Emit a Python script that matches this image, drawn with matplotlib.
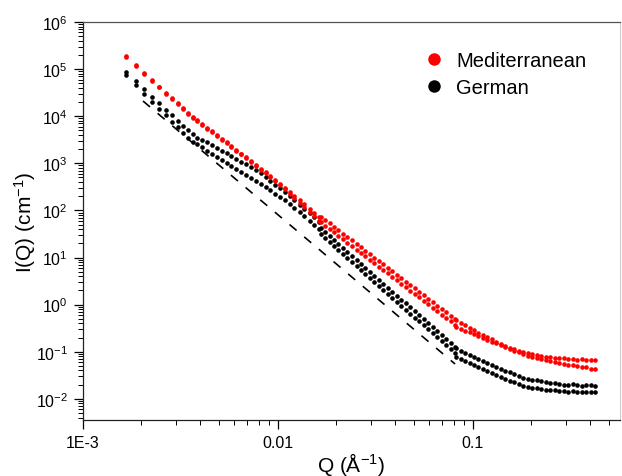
import numpy as np
import matplotlib
matplotlib.use("Agg")
import matplotlib.pyplot as plt
from matplotlib.ticker import LogLocator, NullFormatter
from matplotlib.lines import Line2D

# low-Q detector setting (shared Q grid)
q_low = [0.00167, 0.00187, 0.00207, 0.00227, 0.00247, 0.00267, 0.00287, 0.00307,
         0.00327, 0.00347, 0.00367, 0.00387, 0.00410, 0.00435, 0.00460, 0.00488,
         0.00516, 0.00547, 0.00579, 0.00614, 0.00650, 0.00689, 0.00729, 0.00773,
         0.00818, 0.00867, 0.00918, 0.00973, 0.0103, 0.0109, 0.0116, 0.0122,
         0.0130, 0.0137, 0.0146, 0.0154, 0.0163]
med_a_low = [1.87e5, 1.22e5, 8.32e4, 5.87e4, 4.26e4, 3.17e4, 2.42e4, 1.88e4, 1.47e4,
             1.19e4, 9.68e3, 8.20e3, 6.84e3, 5.71e3, 4.76e3, 3.98e3, 3.32e3, 2.77e3,
             2.31e3, 1.93e3, 1.61e3, 1.34e3, 1.12e3, 931, 771, 638, 528, 438, 361,
             299, 248, 202, 164, 134, 109, 88.9, 72.4]
med_b_low = [1.79e5, 1.17e5, 7.95e4, 5.61e4, 4.07e4, 3.03e4, 2.31e4, 1.80e4, 1.40e4,
             1.14e4, 9.24e3, 7.83e3, 6.53e3, 5.45e3, 4.55e3, 3.80e3, 3.17e3, 2.65e3,
             2.21e3, 1.84e3, 1.54e3, 1.28e3, 1.07e3, 889, 736, 609, 504, 418, 342,
             278, 227, 182, 145, 116, 93.0, 74.6, 59.7]
ger_a_low = [8.61e4, 5.55e4, 3.73e4, 2.61e4, 1.87e4, 1.38e4, 1.04e4, 8.04e3, 6.25e3,
             5.00e3, 4.11e3, 3.48e3, 3.16e3, 2.77e3, 2.43e3, 2.13e3, 1.86e3, 1.63e3,
             1.43e3, 1.25e3, 1.09e3, 955, 836, 731, 614, 509, 423, 351, 292, 242,
             201, 163, 133, 108, 87.5, 71.0, 57.5]
ger_b_low = [7.33e4, 4.58e4, 3.01e4, 2.05e4, 1.44e4, 1.04e4, 7.71e3, 5.85e3, 4.47e3,
             3.52e3, 2.90e3, 2.52e3, 2.17e3, 1.86e3, 1.60e3, 1.37e3, 1.17e3, 1.02e3,
             883, 764, 662, 574, 498, 431, 368, 313, 266, 226, 192, 164, 139, 113,
             91.8, 74.5, 60.5, 49.1, 39.9]

# mid-Q detector setting
q_mid = [0.0166, 0.0175, 0.0185, 0.0195, 0.0205, 0.0216, 0.0228, 0.0240, 0.0254,
         0.0267, 0.0282, 0.0297, 0.0313, 0.0330, 0.0348, 0.0367, 0.0387, 0.0408,
         0.0431, 0.0454, 0.0479, 0.0505, 0.0532, 0.0561, 0.0592, 0.0624, 0.0658,
         0.0693, 0.0731, 0.0771, 0.0813]
med_a_mid = [74.1, 62.7, 53.1, 44.9, 37.9, 32.1, 27.2, 23.0, 19.4, 16.4, 13.9, 11.7,
             9.95, 8.41, 7.11, 6.03, 5.09, 4.31, 3.64, 3.08, 2.61, 2.20, 1.87, 1.58,
             1.33, 1.13, 0.955, 0.807, 0.682, 0.578, 0.489]
med_b_mid = [56.2, 47.6, 40.3, 34.1, 28.8, 24.4, 20.6, 17.5, 14.7, 12.4, 10.6, 8.88,
             7.55, 6.38, 5.40, 4.58, 3.86, 3.27, 2.76, 2.34, 1.98, 1.67, 1.42, 1.20,
             1.01, 0.858, 0.725, 0.613, 0.518, 0.439, 0.371]
ger_a_mid = [41.7, 34.4, 28.3, 23.3, 19.2, 15.8, 13.1, 10.8, 8.87, 7.31, 6.03, 4.97,
             4.09, 3.37, 2.78, 2.29, 1.89, 1.56, 1.28, 1.06, 0.871, 0.718, 0.592,
             0.488, 0.402, 0.331, 0.273, 0.225, 0.185, 0.153, 0.126]
ger_b_mid = [30.9, 25.5, 21.0, 17.3, 14.2, 11.7, 9.71, 8.00, 6.57, 5.42, 4.47, 3.68,
             3.03, 2.50, 2.06, 1.70, 1.40, 1.16, 0.949, 0.785, 0.645, 0.532, 0.439,
             0.362, 0.298, 0.245, 0.202, 0.167, 0.137, 0.113, 0.0934]

# high-Q detector setting
q_high = [0.0822, 0.0867, 0.0914, 0.0964, 0.1016, 0.1072, 0.1130, 0.1191, 0.1256,
          0.1324, 0.1396, 0.1472, 0.1552, 0.1637, 0.1726, 0.1820, 0.1919, 0.2023,
          0.2133, 0.2249, 0.2371, 0.2500, 0.2636, 0.2780, 0.2931, 0.3090, 0.3258,
          0.3436, 0.3622, 0.3819, 0.4027, 0.4246]
med_a_high = [0.468, 0.414, 0.366, 0.324, 0.286, 0.253, 0.226, 0.203, 0.183, 0.164,
              0.148, 0.133, 0.120, 0.113, 0.106, 0.0993, 0.0933, 0.0883, 0.0851,
              0.0820, 0.0789, 0.0760, 0.0752, 0.0731, 0.0725, 0.0708, 0.0702, 0.0683,
              0.0690, 0.0672, 0.0680, 0.0659]
med_b_high = [0.339, 0.309, 0.282, 0.258, 0.235, 0.214, 0.195, 0.178, 0.163, 0.150,
              0.137, 0.126, 0.116, 0.106, 0.0977, 0.0897, 0.0826, 0.0783, 0.0743,
              0.0705, 0.0668, 0.0634, 0.0601, 0.0570, 0.0556, 0.0524, 0.0515, 0.0505,
              0.0482, 0.0468, 0.0438, 0.0427]
ger_a_high = [0.117, 0.106, 0.0957, 0.0865, 0.0780, 0.0705, 0.0637, 0.0574, 0.0519,
              0.0473, 0.0435, 0.0398, 0.0366, 0.0336, 0.0308, 0.0282, 0.0261, 0.0253,
              0.0245, 0.0237, 0.0229, 0.0221, 0.0218, 0.0207, 0.0200, 0.0201, 0.0203,
              0.0197, 0.0191, 0.0192, 0.0195, 0.0188]
ger_b_high = [0.0759, 0.0687, 0.0624, 0.0565, 0.0512, 0.0465, 0.0421, 0.0381, 0.0345,
              0.0316, 0.0290, 0.0265, 0.0244, 0.0224, 0.0205, 0.0188, 0.0175, 0.0170,
              0.0166, 0.0161, 0.0157, 0.0153, 0.0151, 0.0145, 0.0146, 0.0141, 0.0143,
              0.0139, 0.0141, 0.0137, 0.0140, 0.0138]

# Q^-3.5 guide line
guide_q = [0.00204, 0.0813]
guide_i = [2.1e4, 0.0548]

x_ticks = [1e-3, 1e-2, 1e-1]
x_tick_labels = ["1E-3", "0.01", "0.1"]
y_ticks = [1e-2, 1e-1, 1e0, 1e1, 1e2, 1e3, 1e4, 1e5, 1e6]

labels = ["Mediterranean", "German"]
colors = ["#ff0000", "#000000"]

plt.rcParams["font.family"] = ["Liberation Sans", "DejaVu Sans"]
plt.rcParams["mathtext.fontset"] = "custom"
plt.rcParams["mathtext.rm"] = "Liberation Sans"
plt.rcParams["mathtext.it"] = "Liberation Sans:italic"
plt.rcParams["mathtext.default"] = "regular"

fig = plt.figure(figsize=(6.22, 4.77), dpi=100)
ax = fig.add_axes([0.1328, 0.1174, 0.8640, 0.8344])

german = [(q_low, ger_a_low), (q_low, ger_b_low), (q_mid, ger_a_mid),
          (q_mid, ger_b_mid), (q_high, ger_a_high), (q_high, ger_b_high)]
med = [(q_low, med_a_low), (q_low, med_b_low), (q_mid, med_a_mid),
       (q_mid, med_b_mid), (q_high, med_a_high), (q_high, med_b_high)]

for q, i in german:
    ax.plot(q, i, "o", color=colors[1], ms=3.3, mew=0, zorder=3)
for q, i in med:
    ax.plot(q, i, "o", color=colors[0], ms=3.3, mew=0, zorder=4)

ax.plot(guide_q, guide_i, color="black", lw=1.2, linestyle=(0, (5.5, 6.0)), zorder=2)

ax.set_xscale("log")
ax.set_yscale("log")
ax.set_xlim(1e-3, 0.57)
ax.set_ylim(3.55e-3, 1e6)

ax.set_xticks(x_ticks)
ax.set_xticklabels(x_tick_labels)
ax.set_yticks(y_ticks)
ax.xaxis.set_minor_locator(LogLocator(base=10, subs=np.arange(2, 10) * 1.0, numticks=100))
ax.xaxis.set_minor_formatter(NullFormatter())
ax.yaxis.set_minor_locator(LogLocator(base=10, subs=np.arange(2, 10) * 1.0, numticks=100))
ax.yaxis.set_minor_formatter(NullFormatter())

ax.tick_params(which="major", direction="out", length=6.5, width=0.9,
               labelsize=11.5, pad=4, top=False, right=False)
ax.tick_params(which="minor", direction="out", length=3.5, width=0.7,
               top=False, right=False)

for side in ["left", "bottom"]:
    ax.spines[side].set_linewidth(0.9)
    ax.spines[side].set_color("#222222")
ax.spines["top"].set_linewidth(0.9)
ax.spines["top"].set_color("#555555")
ax.spines["right"].set_linewidth(0.8)
ax.spines["right"].set_color("#cccccc")

ax.set_xlabel("Q (Å$^{-1}$)", fontsize=15)
ax.set_ylabel("I(Q) (cm$^{-1}$)", fontsize=15)
ax.xaxis.set_label_coords(0.5, -0.075)
ax.yaxis.set_label_coords(-0.083, 0.5)

handles = [Line2D([], [], ls="none", marker="o", ms=9, mew=0, color=c) for c in colors]
ax.legend(handles, labels, loc="upper left", bbox_to_anchor=(0.635, 0.927),
          frameon=False, fontsize=14.5, handlelength=1.0, handletextpad=0.6,
          labelspacing=0.4, borderpad=0, borderaxespad=0)

fig.savefig("out.png", dpi=100)
plt.close(fig)
